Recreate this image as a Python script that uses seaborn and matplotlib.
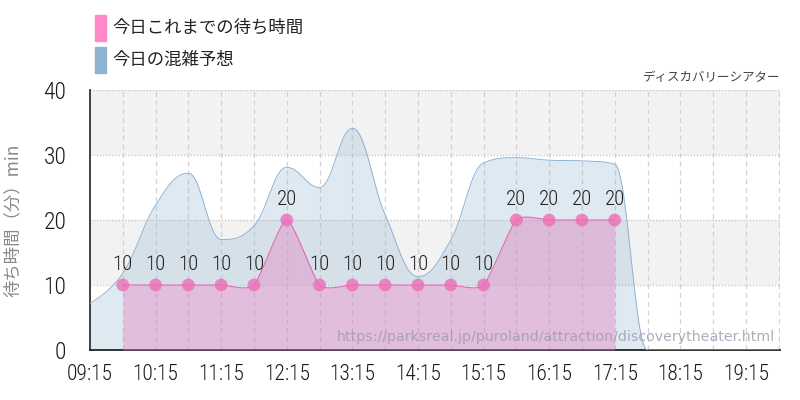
import numpy as np
import matplotlib
matplotlib.use("Agg")
import matplotlib.pyplot as plt
from matplotlib.patches import Rectangle
import seaborn as sns

# forecast (30 min steps)
fc_times = ["09:15", "09:45", "10:15", "10:45", "11:15", "11:45", "12:15", "12:45",
            "13:15", "13:45", "14:15", "14:45", "15:15", "15:45", "16:15", "16:45",
            "17:15", "17:45", "18:15", "18:45", "19:15", "19:45"]
fc_vals = [7.2, 11.8, 22.3, 27.2, 17.0, 19.1, 28.1, 25.0,
           34.1, 20.8, 11.3, 16.9, 28.8, 29.6, 29.2, 29.1,
           28.6, 0, 0, 0, 0, 0]

# actual wait times so far
act_times = ["09:45", "10:15", "10:45", "11:15", "11:45", "12:15", "12:45", "13:15",
             "13:45", "14:15", "14:45", "15:15", "15:45", "16:15", "16:45", "17:15"]
act_vals = [10, 10, 10, 10, 10, 20, 10, 10, 10, 10, 10, 10, 20, 20, 20, 20]

tick_labels = ["09:15", "10:15", "11:15", "12:15", "13:15", "14:15",
               "15:15", "16:15", "17:15", "18:15", "19:15"]
grid_times = fc_times[1:]

legend_items = [("今日これまでの待ち時間", "#ff88c8"), ("今日の混雑予想", "#8fb3d0")]
title_right = "ディスカバリーシアター"
y_label = "待ち時間（分）min"
url = "https://parksreal.jp/puroland/attraction/discoverytheater.html"


def hours(t):
    h, m = t.split(":")
    return int(h) + int(m) / 60


def spline(x, y, smooth=1.5, clamp=False, n=24):
    # bezier spline through the points
    x = np.asarray(x, float)
    y = np.asarray(y, float)
    k = len(x)
    lc = np.column_stack([x, y]).copy()
    rc = np.column_stack([x, y]).copy()
    d = smooth + 1
    for i in range(1, k - 1):
        lx = (smooth * x[i] + x[i - 1]) / d
        ly = (smooth * y[i] + y[i - 1]) / d
        rx = (smooth * x[i] + x[i + 1]) / d
        ry = (smooth * y[i] + y[i + 1]) / d
        corr = (ry - ly) * (rx - x[i]) / (rx - lx) + y[i] - ry
        ly += corr
        ry += corr
        if clamp:
            if ly > y[i - 1] and ly > y[i]:
                ly = max(y[i - 1], y[i]); ry = 2 * y[i] - ly
            elif ly < y[i - 1] and ly < y[i]:
                ly = min(y[i - 1], y[i]); ry = 2 * y[i] - ly
            if ry > y[i + 1] and ry > y[i]:
                ry = max(y[i + 1], y[i]); ly = 2 * y[i] - ry
            elif ry < y[i + 1] and ry < y[i]:
                ry = min(y[i + 1], y[i]); ly = 2 * y[i] - ry
        lc[i] = (lx, ly)
        rc[i] = (rx, ry)
    xs, ys = [x[0]], [y[0]]
    t = np.linspace(0, 1, n + 1)[1:]
    for i in range(1, k):
        p0 = np.array([x[i - 1], y[i - 1]])
        p1 = rc[i - 1]
        p2 = lc[i]
        p3 = np.array([x[i], y[i]])
        pts = ((1 - t) ** 3)[:, None] * p0 + (3 * (1 - t) ** 2 * t)[:, None] * p1 \
            + (3 * (1 - t) * t ** 2)[:, None] * p2 + (t ** 3)[:, None] * p3
        xs.extend(pts[:, 0])
        ys.extend(pts[:, 1])
    return np.array(xs), np.array(ys)


sns.set_style("white")
plt.rcParams["font.family"] = ["Noto Sans CJK JP", "DejaVu Sans"]
num_font = ["Roboto Condensed", "DejaVu Sans"]

fig = plt.figure(figsize=(8, 4), dpi=100)
ax = fig.add_axes([0.1125, 0.125, 0.8625, 0.65])

fx = [hours(t) for t in fc_times]
axx = [hours(t) for t in act_times]

ax.axhspan(30, 40, color="#f2f2f2", zorder=0, lw=0)
ax.axhspan(10, 20, color="#f2f2f2", zorder=0, lw=0)
for v in [10, 20, 30, 40]:
    ax.axhline(v, color="#c4c4c4", lw=0.9, ls=(0, (1, 1.5)), zorder=1)
for t in grid_times:
    ax.axvline(hours(t), color="#d2d2d2", lw=0.9, ls=(0, (4, 3)), zorder=1)

bx, by = spline(fx, fc_vals, clamp=True)
ax.fill_between(bx, 0, by, color="#8fb3d0", alpha=0.28, lw=0, zorder=2)
sns.lineplot(x=bx, y=by, ax=ax, color="#8fb3d4", lw=0.7, sort=False,
             estimator=None, zorder=3)

px, py = spline(axx, act_vals, smooth=4)
ax.fill_between(px, 0, py, color="#e486c0", alpha=0.42, lw=0, zorder=4)
sns.lineplot(x=px, y=py, ax=ax, color="#e866b4", lw=0.8, sort=False,
             estimator=None, zorder=5)
sns.scatterplot(x=axx, y=act_vals, ax=ax, s=85, color="#ee6cb6", alpha=0.78,
                edgecolor="none", zorder=6)
for t, v in zip(axx, act_vals):
    ax.annotate(str(v), (t, v), xytext=(0, 8), textcoords="offset points",
                ha="center", va="bottom", fontsize=15, color="#222222",
                family=num_font, fontweight="light", zorder=7)

ax.text(0.993, 0.05, url, transform=ax.transAxes, ha="right", va="center",
        fontsize=10.2, color="#9a9aaa", alpha=0.8, family="DejaVu Sans", zorder=8)

ax.set_xlim(hours("09:15"), 19.77)
ax.set_ylim(0, 40)
ax.set_xticks([hours(t) for t in tick_labels])
ax.set_xticklabels(tick_labels, family=num_font, fontsize=15.5, color="#1a1a1a",
                   fontweight="light")
ax.set_yticks([0, 10, 20, 30, 40])
ax.set_yticklabels(["0", "10", "20", "30", "40"], family=num_font, fontsize=17,
                   color="#1a1a1a", fontweight="light")
ax.tick_params(axis="x", length=7, width=1, color="#c8c8c8", pad=3)
ax.tick_params(axis="y", length=15, width=1, color="#c8c8c8", pad=2)
ax.set_ylabel(y_label, fontsize=12.5, color="#888888")
ax.yaxis.set_label_coords(-0.099, 0.5)
for s in ["top", "right"]:
    ax.spines[s].set_visible(False)
ax.spines["left"].set_color("#333333")
ax.spines["bottom"].set_color("#222222")
ax.spines["left"].set_linewidth(1.3)
ax.spines["bottom"].set_linewidth(1.3)

for i, (label, col) in enumerate(legend_items):
    ytop = 15 + i * 31.7
    fig.patches.append(Rectangle((95 / 800, 1 - (ytop + 26) / 400), 11 / 800, 26 / 400,
                                 transform=fig.transFigure, color=col))
    fig.text(112 / 800, 1 - (ytop + 13) / 400, label, fontsize=12.5, color="#222222",
             va="center", ha="left")

fig.text(780 / 800, 1 - 77 / 400, title_right, fontsize=9, color="#444444",
         ha="right", va="center")

fig.savefig("out.png", dpi=100)
